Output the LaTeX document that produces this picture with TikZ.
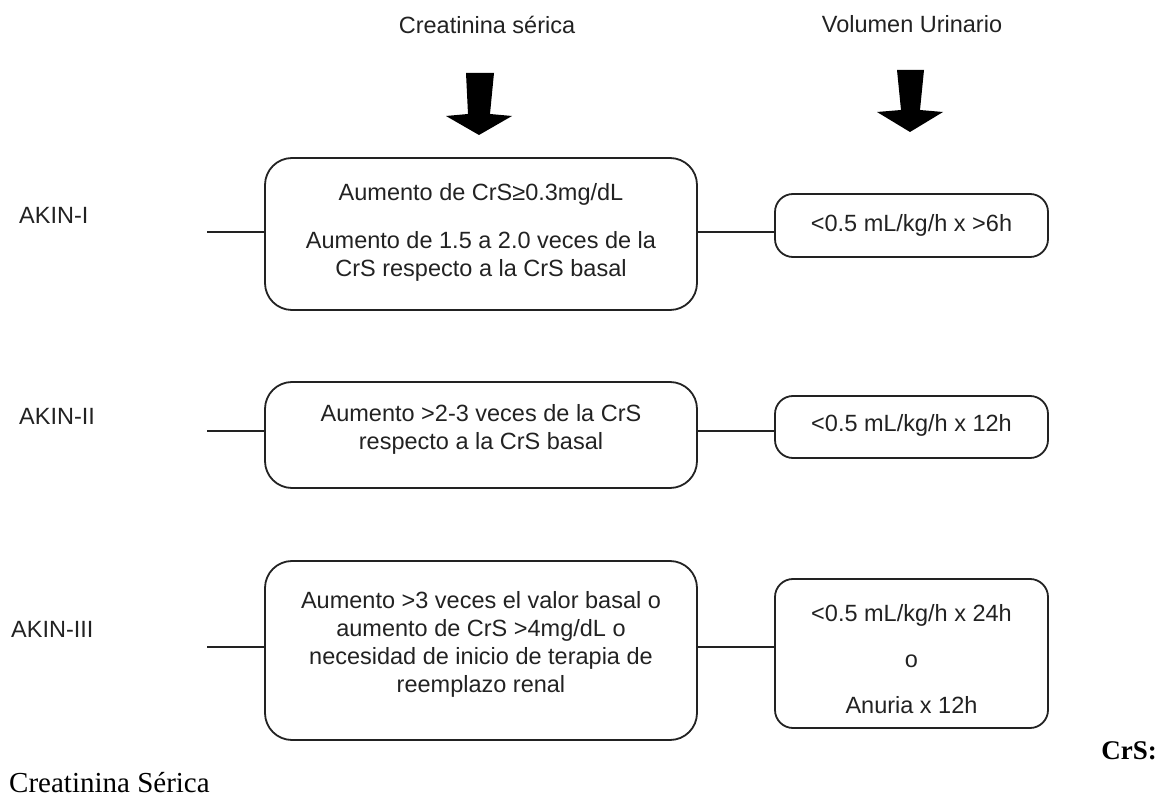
\documentclass[tikz,border=0pt]{standalone}
\usepackage{fontspec}
\setmainfont{Liberation Serif}
\setsansfont{Liberation Sans}
\definecolor{ink}{HTML}{222222}
\begin{document}
\begin{tikzpicture}[x=1pt,y=-1pt,
  bigbox/.style={draw=ink, line width=1.8pt, rounded corners=27pt, minimum width=432pt, inner sep=0pt},
  smallbox/.style={draw=ink, line width=1.8pt, rounded corners=18pt, minimum width=273pt, inner sep=0pt},
  txt/.style={text=ink, font=\sffamily\fontsize{23.5}{28}\selectfont, align=center, inner sep=0pt},
  lbl/.style={text=ink, font=\sffamily\fontsize{23.5}{28}\selectfont, anchor=west, inner sep=0pt},
  conn/.style={draw=ink, line width=1.8pt},
  bigarrow/.style={fill=black, draw=none},
  note/.style={inner sep=0pt}
]
\useasboundingbox (0,0) rectangle (1160,799);

% titles
\node[txt] (h1) at (487,25) {Creatinina sérica};
\node[txt] (h2) at (912,24) {Volumen Urinario};

% block arrows
\fill[bigarrow] (466,73) -- (494,73) -- (490,114) -- (512,116) -- (479,135) -- (446,116) -- (468,114) -- cycle;
\fill[bigarrow] (897,70) -- (924,70) -- (920,110) -- (943,112) -- (910,132) -- (877,112) -- (901,110) -- cycle;

% row labels
\node[lbl] (l1) at (19,215) {AKIN-I};
\node[lbl] (l2) at (19,416) {AKIN-II};
\node[lbl] (l3) at (11,629) {AKIN-III};

% boxes
\node[bigbox, minimum height=152pt] (b1) at (481,234) {};
\node[bigbox, minimum height=106pt] (b2) at (481,435) {};
\node[bigbox, minimum height=179pt] (b3) at (481,650.5) {};
\node[smallbox, minimum height=63pt] (r1) at (911.5,225.5) {};
\node[smallbox, minimum height=62pt] (r2) at (911.5,427) {};
\node[smallbox, minimum height=149pt] (r3) at (911.5,653.5) {};

% box texts
\node[txt] (t1) at (481,232) {Aumento de CrS≥0.3mg/dL\\[20pt]Aumento de 1.5 a 2.0 veces de la\\CrS respecto a la CrS basal};
\node[txt] (t2) at (481,429) {Aumento >2-3 veces de la CrS\\respecto a la CrS basal};
\node[txt] (t3) at (481,644.5) {Aumento >3 veces el valor basal o\\aumento de CrS >4mg/dL o\\necesidad de inicio de terapia de\\reemplazo renal};
\node[txt] (u1) at (911.5,225) {<0.5 mL/kg/h x >6h};
\node[txt] (u2) at (911.5,425) {<0.5 mL/kg/h x 12h};
\node[txt] (u3) at (911.5,659) {<0.5 mL/kg/h x 24h\\[18pt]o\\[18pt]Anuria x 12h};

% connectors
\coordinate (s1) at (207,232);
\coordinate (s2) at (207,431);
\coordinate (s3) at (207,647);
\draw[conn] (s1) -- (s1 -| b1.west);
\draw[conn] (s1 -| b1.east) -- (s1 -| r1.west);
\draw[conn] (s2) -- (s2 -| b2.west);
\draw[conn] (s2 -| b2.east) -- (s2 -| r2.west);
\draw[conn] (s3) -- (s3 -| b3.west);
\draw[conn] (s3 -| b3.east) -- (s3 -| r3.west);

% footnote
\node[note, anchor=base east, font=\fontsize{27}{30}\selectfont\bfseries] (n1) at (1157,759) {CrS:};
\node[note, anchor=base west, font=\fontsize{29}{32}\selectfont] (n2) at (9,792) {Creatinina Sérica};
\end{tikzpicture}
\end{document}
